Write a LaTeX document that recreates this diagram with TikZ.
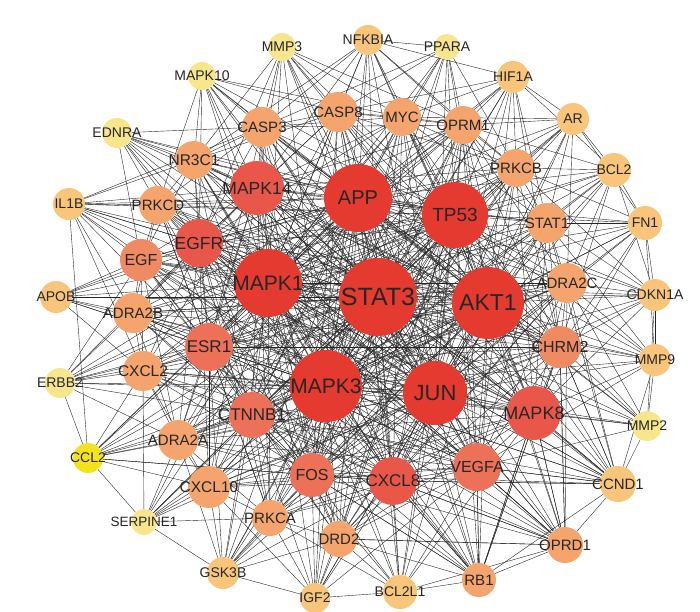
\documentclass[tikz,border=0pt]{standalone}
\usepackage{fontspec}
\setmainfont{Liberation Sans}
\definecolor{HubRed}{HTML}{E53A2F}
\definecolor{DeepSalmon}{HTML}{E8574A}
\definecolor{SoftSalmon}{HTML}{ED7059}
\definecolor{PaleSalmon}{HTML}{F08A62}
\definecolor{MidOrange}{HTML}{F4A46C}
\definecolor{LightOrange}{HTML}{F8C57B}
\definecolor{PaleYellow}{HTML}{F8E68C}
\definecolor{BrightYellow}{HTML}{F2E31C}
\definecolor{LinkGray}{HTML}{262626}
\usetikzlibrary{backgrounds}
\tikzset{
  g/.style 2 args={circle, inner sep=0pt, fill=#1, minimum size=#2pt},
  lbl/.style={font=\fontsize{#1}{#1}\selectfont, inner sep=0pt, text=black!85},
  link/.style={draw=LinkGray, line width=0.4pt}
}
\begin{document}
\begin{tikzpicture}[x=1pt, y=-1pt]
\useasboundingbox (0,0) rectangle (700,611);
% hubs
\node[g={HubRed}{78}, label={[lbl=25]center:STAT3}] (STAT3) at (378,297) {};
\node[g={HubRed}{72}, label={[lbl=23]center:AKT1}] (AKT1) at (488,303) {};
\node[g={HubRed}{68}, label={[lbl=20]center:APP}] (APP) at (358,198) {};
\node[g={HubRed}{66}, label={[lbl=19]center:TP53}] (TP53) at (455,215) {};
\node[g={HubRed}{68}, label={[lbl=21]center:MAPK1}] (MAPK1) at (268,283) {};
\node[g={HubRed}{72}, label={[lbl=21]center:MAPK3}] (MAPK3) at (326,386) {};
\node[g={HubRed}{64}, label={[lbl=22]center:JUN}] (JUN) at (435,393) {};
% second ring
\node[g={DeepSalmon}{54}, label={[lbl=17.5]center:MAPK14}] (MAPK14) at (257,188) {};
\node[g={DeepSalmon}{48}, label={[lbl=17.5]center:EGFR}] (EGFR) at (199,243) {};
\node[g={SoftSalmon}{48}, label={[lbl=17]center:ESR1}] (ESR1) at (209,347) {};
\node[g={SoftSalmon}{46}, label={[lbl=17]center:CTNNB1}] (CTNNB1) at (252,415) {};
\node[g={SoftSalmon}{44}, label={[lbl=16]center:FOS}] (FOS) at (312,475) {};
\node[g={DeepSalmon}{48}, label={[lbl=17]center:CXCL8}] (CXCL8) at (393,481) {};
\node[g={SoftSalmon}{48}, label={[lbl=16]center:VEGFA}] (VEGFA) at (477,467) {};
\node[g={DeepSalmon}{54}, label={[lbl=18]center:MAPK8}] (MAPK8) at (534,413) {};
\node[g={PaleSalmon}{42}, label={[lbl=16]center:CHRM2}] (CHRM2) at (560,347) {};
% third ring
\node[g={MidOrange}{40}, label={[lbl=15]center:CASP3}] (CASP3) at (262,127) {};
\node[g={MidOrange}{40}, label={[lbl=15]center:CASP8}] (CASP8) at (338,112) {};
\node[g={MidOrange}{38}, label={[lbl=15]center:MYC}] (MYC) at (402,117) {};
\node[g={MidOrange}{38}, label={[lbl=15]center:OPRM1}] (OPRM1) at (463,125) {};
\node[g={MidOrange}{38}, label={[lbl=15.5]center:NR3C1}] (NR3C1) at (194,160) {};
\node[g={MidOrange}{38}, label={[lbl=15]center:PRKCD}] (PRKCD) at (158,205) {};
\node[g={PaleSalmon}{42}, label={[lbl=16]center:EGF}] (EGF) at (141,260) {};
\node[g={MidOrange}{40}, label={[lbl=15]center:ADRA2B}] (ADRA2B) at (133,313) {};
\node[g={MidOrange}{40}, label={[lbl=15.5]center:CXCL2}] (CXCL2) at (143,371) {};
\node[g={MidOrange}{40}, label={[lbl=15]center:ADRA2A}] (ADRA2A) at (178,440) {};
\node[g={MidOrange}{42}, label={[lbl=15.5]center:CXCL10}] (CXCL10) at (209,487) {};
\node[g={MidOrange}{36}, label={[lbl=15]center:PRKCA}] (PRKCA) at (270,518) {};
\node[g={MidOrange}{36}, label={[lbl=15]center:DRD2}] (DRD2) at (339,539) {};
\node[g={MidOrange}{34}, label={[lbl=15]center:RB1}] (RB1) at (479,580) {};
\node[g={MidOrange}{36}, label={[lbl=15]center:OPRD1}] (OPRD1) at (565,545) {};
\node[g={LightOrange}{36}, label={[lbl=15]center:CCND1}] (CCND1) at (618,484) {};
\node[g={MidOrange}{40}, label={[lbl=15]center:ADRA2C}] (ADRA2C) at (567,283) {};
\node[g={MidOrange}{40}, label={[lbl=15]center:STAT1}] (STAT1) at (547,223) {};
\node[g={MidOrange}{38}, label={[lbl=15]center:PRKCB}] (PRKCB) at (516,168) {};
% outer ring
\node[g={PaleYellow}{28}, label={[lbl=14]center:MMP3}] (MMP3) at (282,47) {};
\node[g={PaleYellow}{28}, label={[lbl=14]center:MAPK10}] (MAPK10) at (202,76) {};
\node[g={PaleYellow}{30}, label={[lbl=14]center:EDNRA}] (EDNRA) at (117,133) {};
\node[g={LightOrange}{32}, label={[lbl=14]center:IL1B}] (IL1B) at (69,204) {};
\node[g={LightOrange}{32}, label={[lbl=14]center:APOB}] (APOB) at (56,297) {};
\node[g={PaleYellow}{30}, label={[lbl=14]center:ERBB2}] (ERBB2) at (60,383) {};
\node[g={BrightYellow}{30}, label={[lbl=14]center:CCL2}] (CCL2) at (88,458) {};
\node[g={PaleYellow}{26}, label={[lbl=13.5]center:SERPINE1}] (SERPINE1) at (144,522) {};
\node[g={LightOrange}{32}, label={[lbl=14]center:GSK3B}] (GSK3B) at (223,573) {};
\node[g={LightOrange}{30}, label={[lbl=14]center:IGF2}] (IGF2) at (315,598) {};
\node[g={LightOrange}{34}, label={[lbl=14]center:BCL2L1}] (BCL2L1) at (400,592) {};
\node[g={LightOrange}{30}, label={[lbl=14]center:NFKBIA}] (NFKBIA) at (368,40) {};
\node[g={PaleYellow}{26}, label={[lbl=14]center:PPARA}] (PPARA) at (447,47) {};
\node[g={LightOrange}{32}, label={[lbl=14]center:HIF1A}] (HIF1A) at (513,77) {};
\node[g={LightOrange}{32}, label={[lbl=14]center:AR}] (AR) at (573,119) {};
\node[g={LightOrange}{34}, label={[lbl=14]center:BCL2}] (BCL2) at (614,170) {};
\node[g={LightOrange}{34}, label={[lbl=14]center:FN1}] (FN1) at (645,223) {};
\node[g={LightOrange}{32}, label={[lbl=14]center:CDKN1A}] (CDKN1A) at (655,295) {};
\node[g={LightOrange}{32}, label={[lbl=14]center:MMP9}] (MMP9) at (655,360) {};
\node[g={PaleYellow}{30}, label={[lbl=14]center:MMP2}] (MMP2) at (647,426) {};

\begin{scope}[on background layer]
% hubs reach every other gene
\foreach \h in {STAT3,AKT1,APP,TP53,MAPK1,MAPK3,JUN}
  \foreach \n in {MAPK14,EGFR,ESR1,CTNNB1,FOS,CXCL8,VEGFA,MAPK8,CHRM2,
    CASP3,CASP8,MYC,OPRM1,NR3C1,PRKCD,EGF,ADRA2B,CXCL2,ADRA2A,CXCL10,PRKCA,DRD2,RB1,OPRD1,CCND1,ADRA2C,STAT1,PRKCB,
    MMP3,MAPK10,EDNRA,IL1B,APOB,ERBB2,CCL2,SERPINE1,GSK3B,IGF2,BCL2L1,NFKBIA,PPARA,HIF1A,AR,BCL2,FN1,CDKN1A,MMP9,MMP2}
    \draw[link] (\h) -- (\n);
\foreach \a/\b in {STAT3/AKT1,STAT3/APP,STAT3/TP53,STAT3/MAPK1,STAT3/MAPK3,STAT3/JUN,
  AKT1/APP,AKT1/TP53,AKT1/MAPK1,AKT1/MAPK3,AKT1/JUN,APP/TP53,APP/MAPK1,APP/MAPK3,APP/JUN,
  TP53/MAPK1,TP53/MAPK3,TP53/JUN,MAPK1/MAPK3,MAPK1/JUN,MAPK3/JUN}
  \draw[link] (\a) -- (\b);
% second ring to itself and to the third ring
\foreach \a/\b in {MAPK14/EGFR,MAPK14/ESR1,MAPK14/FOS,MAPK14/MAPK8,MAPK14/CXCL8,EGFR/ESR1,EGFR/CTNNB1,
  EGFR/VEGFA,EGFR/MAPK8,ESR1/CTNNB1,ESR1/FOS,ESR1/VEGFA,CTNNB1/FOS,CTNNB1/CXCL8,CTNNB1/VEGFA,
  FOS/CXCL8,FOS/VEGFA,FOS/MAPK8,CXCL8/VEGFA,CXCL8/MAPK8,VEGFA/MAPK8,VEGFA/CHRM2,MAPK8/CHRM2,ESR1/CHRM2}
  \draw[link] (\a) -- (\b);
\foreach \s in {MAPK14,EGFR,ESR1,CTNNB1,FOS,CXCL8,VEGFA,MAPK8,CHRM2}
  \foreach \n in {CASP3,CASP8,MYC,OPRM1,NR3C1,PRKCD,EGF,ADRA2B,CXCL2,ADRA2A,CXCL10,PRKCA,DRD2,RB1,OPRD1,CCND1,ADRA2C,STAT1,PRKCB}
    \draw[link] (\s) -- (\n);
% local links
\foreach \a/\nb in {
  MMP3/{CASP3,MYC,CASP8,NR3C1,MAPK14,OPRM1,EGFR},
  MAPK10/{NR3C1,CASP3,MAPK14,CASP8,MYC,EGFR,PRKCD},
  EDNRA/{NR3C1,PRKCD,EGF,CASP3,MAPK14,EGFR},
  IL1B/{PRKCD,NR3C1,EGF,EGFR,ADRA2B,CCL2,CXCL2,CASP3,MAPK14,ESR1},
  APOB/{EGF,ADRA2B,EGFR,CXCL2,ESR1},
  ERBB2/{CXCL2,CCL2,ADRA2B,EGF,ESR1,CTNNB1,EGFR,ADRA2A},
  CCL2/{ADRA2A,CXCL2,CXCL10,CTNNB1,FOS,CXCL8,SERPINE1,ESR1},
  SERPINE1/{CXCL2,CXCL10,GSK3B,PRKCA,ADRA2A,CTNNB1},
  GSK3B/{PRKCA,IGF2,CXCL10,ADRA2A,CTNNB1,FOS,DRD2,ESR1,CXCL8},
  IGF2/{PRKCA,DRD2,BCL2L1,CXCL10,FOS,CXCL8,CTNNB1,VEGFA},
  BCL2L1/{RB1,CXCL8,FOS,DRD2,VEGFA,PRKCA,OPRD1,MAPK8,CTNNB1},
  RB1/{VEGFA,CXCL8,MAPK8,OPRD1,DRD2,CCND1,CHRM2,FOS},
  OPRD1/{CCND1,CHRM2,MAPK8,VEGFA,DRD2,CXCL8,ADRA2C},
  CCND1/{MMP2,MMP9,MAPK8,CHRM2,VEGFA,ADRA2C,STAT1,CXCL8},
  MMP2/{MMP9,CDKN1A,CHRM2,MAPK8,VEGFA,ADRA2C},
  MMP9/{CHRM2,CDKN1A,ADRA2C,STAT1,MAPK8,FN1,VEGFA},
  CDKN1A/{ADRA2C,FN1,STAT1,BCL2,CHRM2,MAPK8,PRKCB},
  FN1/{STAT1,BCL2,ADRA2C,CHRM2,PRKCB,AR,MAPK8},
  BCL2/{AR,PRKCB,STAT1,OPRM1,ADRA2C,CHRM2,HIF1A},
  AR/{HIF1A,OPRM1,PRKCB,MYC,STAT1,ADRA2C},
  HIF1A/{MYC,OPRM1,PRKCB,CASP8,NFKBIA,STAT1,CHRM2},
  PPARA/{NFKBIA,MYC,OPRM1,CASP8,PRKCB,CASP3},
  NFKBIA/{CASP8,MYC,CASP3,OPRM1,MAPK14,NR3C1,PRKCB},
  CASP3/{CASP8,NR3C1,MYC,PRKCD,OPRM1},
  CASP8/{MYC,OPRM1,NR3C1,PRKCB},
  MYC/{OPRM1,PRKCB,STAT1},
  OPRM1/{PRKCB,STAT1,ADRA2C},
  NR3C1/{PRKCD,EGF},
  PRKCD/{EGF,ADRA2B},
  EGF/{ADRA2B,CXCL2,ADRA2A},
  ADRA2B/{CXCL2,ADRA2A,ADRA2C},
  CXCL2/{ADRA2A,CXCL10},
  ADRA2A/{CXCL10,ADRA2C,PRKCA},
  CXCL10/{PRKCA},
  PRKCA/{DRD2,PRKCB,PRKCD},
  DRD2/{ADRA2C,OPRM1,OPRD1},
  STAT1/{PRKCB,ADRA2C}}
  \foreach \b in \nb
    \draw[link] (\a) -- (\b);
\end{scope}
\end{tikzpicture}
\end{document}
